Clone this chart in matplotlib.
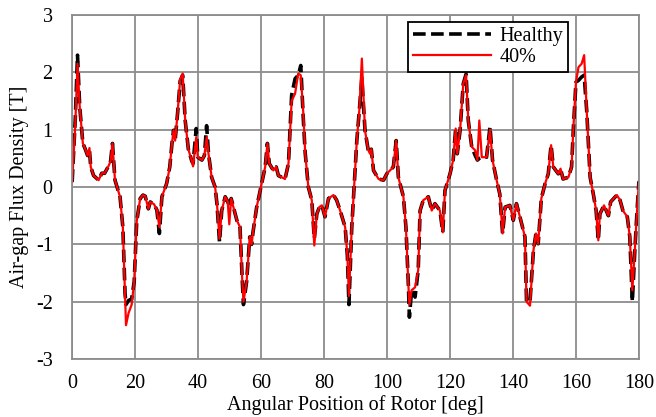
import matplotlib
matplotlib.use('Agg')
import matplotlib.pyplot as plt

# angular position of rotor [deg]
angle = [0.0, 1.0, 1.7, 2.4, 3.4, 4.1, 4.9, 5.5, 5.9, 6.8, 8.4, 9.4, 10.3, 11.5, 12.2, 12.8, 13.6,
         15.2, 16.1, 16.8, 17.1, 17.9, 18.9, 19.7, 20.5, 21.6, 22.5, 23.2, 24.2, 24.8, 26.0, 26.9,
         27.7, 28.5, 30.0, 31.0, 31.7, 32.2, 32.7, 33.5, 34.3, 35.1, 35.9, 36.9, 38.0, 38.4, 39.4,
         39.9, 41.2, 42.0, 42.7, 43.3, 44.3, 45.4, 46.0, 46.8, 47.5, 48.6, 49.4, 49.9, 50.5, 51.2,
         52.3, 53.3, 54.0, 54.4, 55.4, 56.4, 57.0, 57.4, 58.6, 60.2, 61.3, 62.0, 62.6, 63.9, 64.8,
         65.5, 67.6, 68.7, 69.7, 70.8, 71.8, 72.6, 73.4, 74.0, 75.0, 76.1, 76.9, 77.7, 78.5, 79.3,
         80.3, 81.4, 83.0, 84.0, 85.1, 86.7, 87.4, 87.9, 88.8, 90.4, 91.2, 92.0, 93.0, 94.0, 94.6,
         95.0, 95.7, 97.3, 98.9, 99.9, 102.0, 102.9, 103.6, 105.2, 106.0, 106.8, 107.1, 107.8, 108.9,
         109.9, 110.5, 111.5, 113.1, 114.2, 115.2, 116.8, 117.7, 118.4, 120.0, 121.0, 121.8, 122.3,
         123.2, 124.2, 125.1, 125.8, 126.9, 128.0, 128.7, 129.3, 130.1, 131.6, 132.7, 133.5, 134.8,
         135.8, 136.7, 137.5, 139.0, 140.1, 141.1, 142.2, 143.8, 144.3, 145.4, 146.5, 147.3, 148.0,
         149.0, 150.2, 151.2, 152.1, 152.8, 154.4, 155.1, 155.9, 157.6, 158.6, 159.2, 160.0, 160.8,
         161.8, 162.6, 163.4, 164.5, 165.5, 166.4, 167.1, 167.6, 168.9, 170.3, 171.0, 173.0, 174.0,
         174.9, 176.3, 177.1, 177.9, 178.7, 179.4, 180.0]

healthy = [0.09, 1.2, 2.3, 1.4, 0.76, 0.67, 0.55, 0.64, 0.35, 0.2, 0.12, 0.24, 0.24, 0.36, 0.45, 0.76, 0.12,
           -0.17, -0.7, -1.86, -2.05, -1.98, -1.95, -1.65, -0.6, -0.2, -0.14, -0.16, -0.38, -0.26, -0.3, -0.4,
           -0.81, -0.17, 0.06, 0.35, 0.76, 0.99, 0.81, 1.3, 1.85, 1.95, 1.16, 0.66, 0.45, 0.41, 1.02,
           0.52, 0.47, 0.55, 1.07, 0.58, 0.17, 0.0, -0.3, -0.96, -0.41, -0.17, -0.25, -0.35, -0.2, -0.35,
           -0.58, -0.7, -1.6, -2.05, -1.65, -0.87, -1.0, -0.8, -0.35, 0.06, 0.35, 0.76, 0.41, 0.29, 0.35,
           0.2, 0.14, 0.41, 1.6, 1.89, 1.95, 2.12, 1.2, 0.6, 0.0, -0.23, -0.9, -0.47, -0.35, -0.32,
           -0.52, -0.2, -0.14, -0.23, -0.41, -0.7, -1.2, -2.05, -0.7, 0.81, 1.34, 1.9, 0.99, 0.65, 0.58,
           0.66, 0.29, 0.14, 0.12, 0.23, 0.35, 0.81, 0.17, -0.17, -0.7, -1.74, -2.27, -1.8, -1.92,
           -1.45, -0.41, -0.23, -0.17, -0.41, -0.29, -0.41, -0.79, -0.06, 0.23, 0.47, 1.02, 0.58,
           0.99, 1.8, 1.97, 1.16, 0.7, 0.55, 0.47, 0.5, 0.52, 0.52, 1.05, 0.47, 0.12,
           -0.12, -0.81, -0.35, -0.32, -0.58, -0.29, -0.52, -0.87, -2.0, -2.0, -1.1, -0.81, -0.99,
           -0.2, 0.06, 0.23, 0.73, 0.35, 0.23, 0.32, 0.14, 0.17, 0.35, 1.05, 1.83, 1.86,
           1.92, 1.95, 1.34, 0.17, -0.12, -0.41, -0.93, -0.47, -0.32, -0.5, -0.26, -0.14, -0.23,
           -0.41, -0.52, -0.87, -2.0, -1.1, -0.41, 0.1]

fault40 = [0.09, 1.1, 2.15, 1.4, 0.76, 0.67, 0.55, 0.68, 0.35, 0.2, 0.12, 0.24, 0.24, 0.36, 0.45, 0.76, 0.12,
           -0.17, -0.7, -1.86, -2.41, -2.2, -2.05, -1.65, -0.6, -0.2, -0.14, -0.16, -0.38, -0.26, -0.3, -0.4,
           -0.7, -0.17, 0.06, 0.35, 0.76, 0.99, 0.81, 1.3, 1.88, 1.98, 1.16, 0.66, 0.45, 0.36, 0.87,
           0.52, 0.47, 0.55, 0.87, 0.58, 0.17, 0.0, -0.3, -0.9, -0.41, -0.17, -0.25, -0.65, -0.2, -0.35,
           -0.58, -0.7, -1.6, -2.0, -1.65, -0.87, -1.0, -0.8, -0.35, 0.06, 0.35, 0.76, 0.41, 0.29, 0.35,
           0.2, 0.14, 0.41, 1.5, 1.63, 1.98, 1.95, 1.3, 0.6, 0.0, -0.23, -1.02, -0.47, -0.35, -0.32,
           -0.52, -0.2, -0.14, -0.23, -0.41, -0.7, -1.2, -1.9, -0.7, 0.81, 1.34, 2.24, 0.99, 0.65, 0.58,
           0.66, 0.29, 0.14, 0.12, 0.23, 0.35, 0.81, 0.17, -0.17, -0.7, -1.74, -2.05, -1.8, -1.75,
           -1.45, -0.41, -0.23, -0.17, -0.41, -0.29, -0.41, -0.79, -0.06, 0.23, 0.47, 1.02, 0.58,
           0.99, 1.8, 1.95, 1.16, 0.7, 0.64, 0.47, 1.16, 0.52, 0.52, 1.0, 0.47, 0.12,
           -0.12, -0.81, -0.35, -0.32, -0.58, -0.29, -0.52, -0.87, -2.0, -2.07, -1.1, -0.81, -0.99,
           -0.2, 0.06, 0.23, 0.73, 0.35, 0.23, 0.32, 0.14, 0.17, 0.35, 1.05, 1.83, 2.09,
           2.15, 2.3, 1.34, 0.17, -0.12, -0.41, -0.93, -0.47, -0.32, -0.5, -0.26, -0.14, -0.23,
           -0.41, -0.52, -0.87, -1.8, -1.1, -0.41, 0.1]

plt.rcParams['font.family'] = 'Liberation Serif'
plt.rcParams['font.size'] = 14.5
plt.rcParams['axes.unicode_minus'] = False

fig = plt.figure(figsize=(6.56, 4.17), dpi=100)
ax = fig.add_axes([0.110, 0.139, 0.864, 0.825])

ax.plot(angle, healthy, color='black', lw=2.6, ls=(0, (3.5, 1.5)), label='Healthy')
ax.plot(angle, fault40, color='#ff0000', lw=1.6, label='40%')

ax.set_xlim(0, 180)
ax.set_ylim(-3, 3)
ax.set_xticks(range(0, 181, 20))
ax.set_yticks(range(-3, 4))
ax.grid(True, color='#8c8c8c', lw=1.3)
ax.set_axisbelow(True)
for s in ax.spines.values():
    s.set_color('#8c8c8c')
    s.set_linewidth(1.3)
ax.tick_params(length=0)
ax.tick_params(axis='y', pad=14)
ax.tick_params(axis='x', pad=11)

ax.set_xlabel('Angular Position of Rotor [deg]', labelpad=1)
ax.set_ylabel('Air-gap Flux Density [T]', labelpad=5)

leg = ax.legend(loc='upper left', bbox_to_anchor=(0.592, 0.98), borderaxespad=0,
                handlelength=3.9, fancybox=False, framealpha=1, edgecolor='black',
                borderpad=0.25, labelspacing=0.1, handletextpad=0.4)
leg.get_frame().set_linewidth(1.3)

fig.savefig('out.png', dpi=100)
